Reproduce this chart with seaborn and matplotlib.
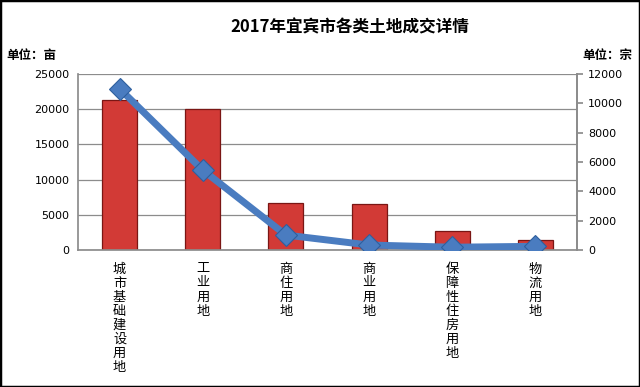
import matplotlib
matplotlib.use("Agg")
import matplotlib.pyplot as plt
import seaborn as sns
import pandas as pd
from matplotlib.patches import Rectangle

categories = ["城市基础建设用地", "工业用地", "商住用地", "商业用地", "保障性住房用地", "物流用地"]
area_mu = [21300, 19980, 6630, 6500, 2740, 1420]
deals = [11000, 5450, 1020, 340, 190, 250]
left_ticks = [0, 5000, 10000, 15000, 20000, 25000]
right_ticks = [0, 2000, 4000, 6000, 8000, 10000, 12000]

sns.set_theme(style="white")
plt.rcParams['font.family'] = ['Noto Sans CJK SC', 'DejaVu Sans']
plt.rcParams['text.color'] = 'black'
plt.rcParams['xtick.color'] = 'black'
plt.rcParams['ytick.color'] = 'black'

df = pd.DataFrame({"cat": categories, "area": area_mu, "deals": deals})

fig = plt.figure(figsize=(6.4, 3.87), dpi=100)
ax = fig.add_axes([78/640, 1-250/387, (577-78)/640, (250-74)/387])

sns.barplot(data=df, x="cat", y="area", ax=ax, color="#d23a36",
            edgecolor="#7a1614", linewidth=0.9, width=0.42, saturation=1, zorder=2)
ax.set_ylim(0, 25000)
ax.set_yticks(left_ticks)
ax.set_yticklabels([str(t) for t in left_ticks], fontsize=8, family=['DejaVu Sans'])
ax.yaxis.grid(True, color="#8c8c8c", linewidth=0.9, zorder=0)
ax.set_axisbelow(True)
ax.set_xlabel("")
ax.set_ylabel("")
ax.set_xticks(range(len(categories)))
ax.set_xticklabels(["\n".join(c) for c in categories], fontsize=9.5,
                   linespacing=1.1, va="top")
ax.tick_params(axis="x", length=0, pad=9, colors="black")
ax.tick_params(axis="y", length=0, pad=6, colors="black")
for s in ["left", "right", "bottom"]:
    ax.spines[s].set_color("#8c8c8c")
ax.spines["top"].set_visible(False)

ax2 = ax.twinx()
sns.pointplot(data=df, x="cat", y="deals", ax=ax2, color="#4a7cc0",
              markers="D", linestyles="-", markersize=11, linewidth=5,
              markeredgecolor="#2e5f9e", markeredgewidth=0.8)
ax2.set_ylim(0, 12000)
ax2.set_yticks(right_ticks)
ax2.set_yticklabels([str(t) for t in right_ticks], fontsize=8, family=['DejaVu Sans'])
ax2.tick_params(axis="y", direction="out", length=4, color="#8c8c8c",
                labelcolor="black", pad=4, right=True)
ax2.set_xlabel("")
ax2.set_ylabel("")
ax2.grid(False)
for s in ["left", "right", "bottom", "top"]:
    ax2.spines[s].set_visible(False)
ax2.spines["right"].set_visible(True)
ax2.spines["right"].set_color("#8c8c8c")
ax.set_xlim(-0.5, len(categories) - 0.5)

fig.text(350/640, 1-27/387, "2017年宜宾市各类土地成交详情", ha="center", va="center",
         fontsize=12, fontweight="bold", color="black")
fig.text(6/640, 1-55/387, "单位：亩", ha="left", va="center", fontsize=9,
         fontweight="bold", color="black")
fig.text(632/640, 1-55/387, "单位：宗", ha="right", va="center", fontsize=9,
         fontweight="bold", color="black")

fig.patches.append(Rectangle((0, 0), 1, 1, transform=fig.transFigure, fill=False,
                             edgecolor="black", linewidth=2.5))

fig.savefig("out.png", dpi=100)
